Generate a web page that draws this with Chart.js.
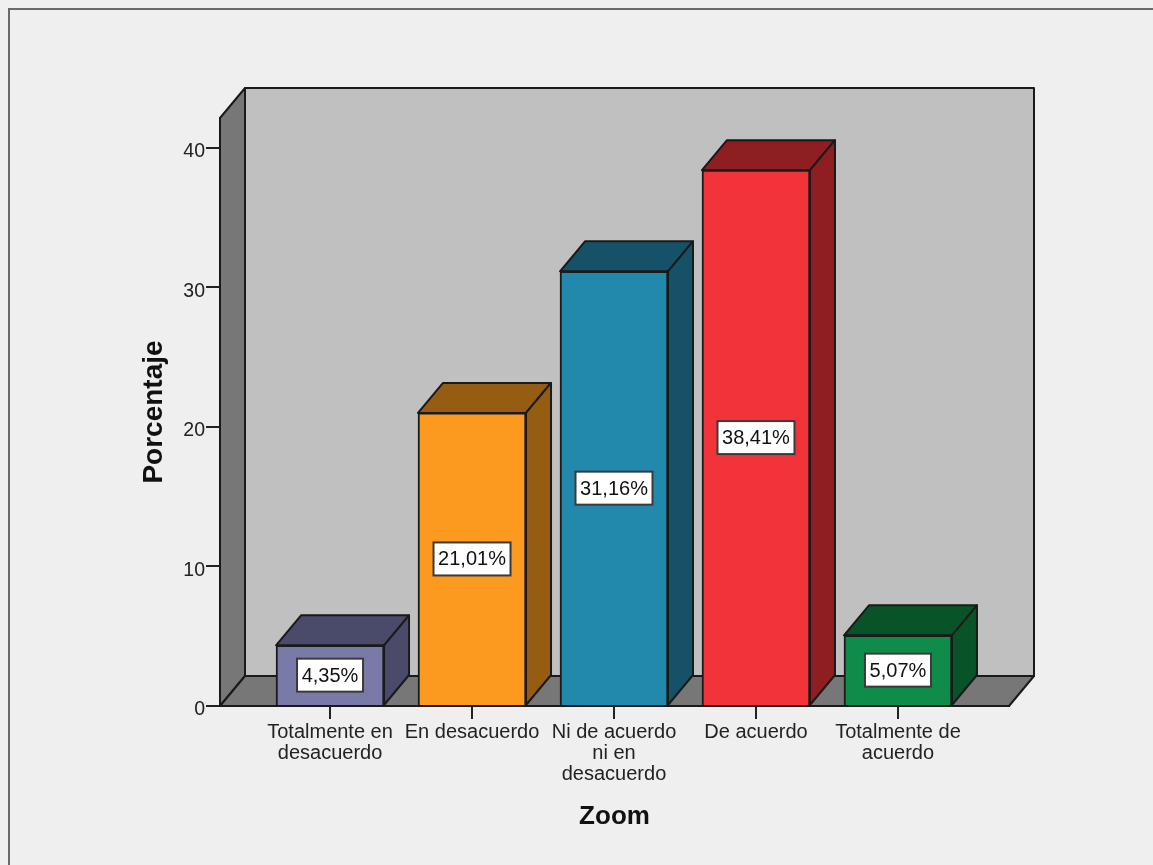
<!DOCTYPE html>
<html lang="es">
<head>
<meta charset="utf-8">
<title>Zoom</title>
<script src="https://cdn.jsdelivr.net/npm/chart.js@4"></script>
<style>
html,body{margin:0;padding:0;background:#f0f0f0;overflow:hidden}
canvas{display:block;filter:blur(0.45px)}
</style>
</head>
<body>
<canvas id="c" width="1153" height="865"></canvas>
<script>
const categories = [
  ["Totalmente en","desacuerdo"],
  ["En desacuerdo"],
  ["Ni de acuerdo","ni en","desacuerdo"],
  ["De acuerdo"],
  ["Totalmente de","acuerdo"]
];
const percentages = [4.35, 21.01, 31.16, 38.41, 5.07];
const yTicks = [0, 10, 20, 30, 40];
const frontColors = ["#7a7aa8", "#fb9a1e", "#2389ac", "#f2333a", "#0f8c49"];
const shadeColors = ["#4a4a6a", "#955c12", "#155268", "#8e1e22", "#095329"];

const DX = 25, DY = -30;
const INK = "#1a1a1a";

function poly(ctx, pts, fill) {
  ctx.beginPath();
  pts.forEach((p, i) => i ? ctx.lineTo(p[0], p[1]) : ctx.moveTo(p[0], p[1]));
  ctx.closePath();
  ctx.fillStyle = fill;
  ctx.fill();
  ctx.lineWidth = 2;
  ctx.lineJoin = "round";
  ctx.strokeStyle = INK;
  ctx.stroke();
}

const box3d = {
  id: "box3d",
  beforeDraw(chart) {
    const { ctx, chartArea: a } = chart;
    ctx.save();
    ctx.fillStyle = "#f0f0f0";
    ctx.fillRect(0, 0, chart.width, chart.height);
    ctx.fillStyle = "#efefef";
    ctx.fillRect(8, 8, chart.width, chart.height);
    ctx.strokeStyle = "#6a6a6a";
    ctx.lineWidth = 2;
    ctx.beginPath();
    ctx.moveTo(9, chart.height);
    ctx.lineTo(9, 9);
    ctx.lineTo(chart.width, 9);
    ctx.stroke();
    // back wall
    poly(ctx, [[a.left + DX, a.top + DY], [a.right + DX, a.top + DY], [a.right + DX, a.bottom + DY], [a.left + DX, a.bottom + DY]], "#c0c0c0");
    // side wall
    poly(ctx, [[a.left, a.top], [a.left + DX, a.top + DY], [a.left + DX, a.bottom + DY], [a.left, a.bottom]], "#777777");
    // floor
    poly(ctx, [[a.left, a.bottom], [a.left + DX, a.bottom + DY], [a.right + DX, a.bottom + DY], [a.right, a.bottom]], "#777777");
    ctx.restore();
  },
  beforeDatasetsDraw(chart) {
    const { ctx } = chart;
    ctx.save();
    chart.getDatasetMeta(0).data.forEach((el, i) => {
      const l = el.x - el.width / 2, r = el.x + el.width / 2, t = el.y, b = el.base;
      poly(ctx, [[l, t], [l + DX, t + DY], [r + DX, t + DY], [r, t]], shadeColors[i]);
      poly(ctx, [[r, t], [r + DX, t + DY], [r + DX, b + DY], [r, b]], shadeColors[i]);
    });
    ctx.restore();
  },
  afterDatasetsDraw(chart) {
    const { ctx } = chart;
    ctx.save();
    ctx.font = '20px "Liberation Sans"';
    ctx.textAlign = "center";
    ctx.textBaseline = "middle";
    chart.getDatasetMeta(0).data.forEach((el, i) => {
      const txt = percentages[i].toFixed(2).replace(".", ",") + "%";
      const cy = (el.y + el.base) / 2;
      const w = Math.round(ctx.measureText(txt).width) + 9, h = 33;
      ctx.fillStyle = "#ffffff";
      ctx.fillRect(el.x - w / 2, cy - h / 2, w, h);
      ctx.strokeStyle = "#3a3a3a";
      ctx.lineWidth = 2;
      ctx.strokeRect(el.x - w / 2, cy - h / 2, w, h);
      ctx.fillStyle = "#111111";
      ctx.fillText(txt, el.x, cy + 1);
    });
    ctx.restore();
  }
};

new Chart(document.getElementById("c"), {
  type: "bar",
  data: {
    datasets: [{
      data: percentages.map((v, i) => ({ x: i, y: v })),
      backgroundColor: frontColors,
      borderColor: INK,
      borderWidth: 2,
      barThickness: 108
    }]
  },
  plugins: [box3d],
  options: {
    responsive: false,
    animation: false,
    events: [],
    layout: { padding: { top: 118, right: 144, left: 0, bottom: 0 } },
    plugins: { legend: { display: false }, tooltip: { enabled: false } },
    scales: {
      x: {
        type: "linear",
        offset: false,
        min: -0.775,
        max: 4.782,
        afterBuildTicks(s) { s.ticks = categories.map((_, i) => ({ value: i })); },
        afterFit(s) { s.height = 159; },
        grid: { display: true, offset: false, drawOnChartArea: false, drawTicks: true, tickLength: 13, color: "#222", lineWidth: 2 },
        border: { display: true, color: INK, width: 2 },
        ticks: {
          autoSkip: false, maxRotation: 0, minRotation: 0, padding: 3,
          color: "#222",
          font: { family: "Liberation Sans", size: 20, lineHeight: 1.05 },
          callback: (v) => categories[v]
        },
        title: {
          display: true, text: "Zoom", color: "#111",
          font: { family: "Liberation Sans", size: 26, weight: "bold" },
          padding: { top: 0, bottom: 33 }
        }
      },
      y: {
        min: 0,
        max: 42.15,
        afterBuildTicks(s) { s.ticks = yTicks.map(v => ({ value: v })); },
        afterFit(s) { s.width = 220; },
        grid: { display: true, drawOnChartArea: false, drawTicks: true, tickLength: 14, color: "#222", lineWidth: 2 },
        border: { display: true, color: INK, width: 2 },
        ticks: {
          padding: 1, color: "#222", labelOffset: 4,
          font: { family: "Liberation Sans", size: 19.5 }
        },
        title: {
          display: true, text: "Porcentaje", color: "#111",
          font: { family: "Liberation Sans", size: 28, weight: "bold" },
          padding: { top: 137, bottom: 0 }
        }
      }
    }
  }
});
</script>
</body>
</html>
